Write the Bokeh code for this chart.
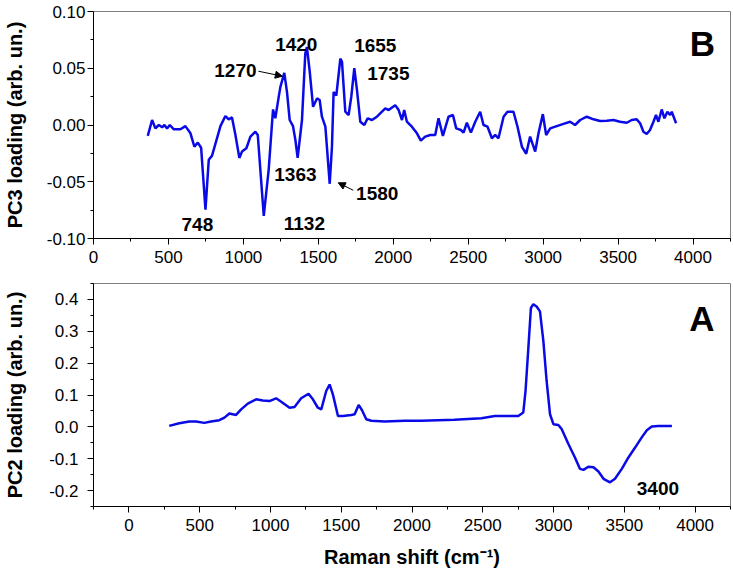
from bokeh.plotting import figure
from bokeh.layouts import column
from bokeh.models import Range1d, FixedTicker, PrintfTickFormatter, Arrow, NormalHead
from bokeh.core.properties import value
from bokeh.embed import file_html
from bokeh.resources import INLINE

# ---------------- data ----------------
pc3_shift = [362, 391, 413, 436, 458, 473, 491, 509, 536, 580, 613, 647, 673, 696, 718,
             747, 769, 791, 847, 880, 902, 924, 947, 973, 991, 1020, 1047, 1080, 1096,
             1136, 1169, 1191, 1198, 1213, 1236, 1247, 1273, 1291, 1309, 1331, 1347, 1362,
             1391, 1413, 1424, 1442, 1465, 1491, 1509, 1524, 1547, 1576, 1591, 1602, 1620,
             1647, 1658, 1680, 1702, 1720, 1740, 1758, 1780, 1807, 1829, 1858, 1891, 1913,
             1947, 1969, 2013, 2036, 2058, 2073, 2091, 2124, 2158, 2184, 2213, 2247, 2280,
             2302, 2331, 2369, 2398, 2420, 2451, 2469, 2491, 2518, 2547, 2580, 2602, 2629,
             2658, 2680, 2702, 2736, 2762, 2802, 2829, 2858, 2887, 2913, 2947, 2969, 2998,
             3020, 3047, 3091, 3136, 3180, 3213, 3247, 3291, 3336, 3380, 3424, 3469, 3513,
             3558, 3591, 3624, 3647, 3669, 3691, 3713, 3736, 3753, 3769, 3791, 3809, 3829,
             3847, 3858, 3887]
pc3_loading = [-0.0096, 0.0044, -0.003, 0.0, -0.002, 0.0, -0.003, 0.0, -0.0038, -0.0038,
               -0.001, -0.0073, -0.019, -0.0155, -0.020, -0.0746, -0.0307, -0.027, -0.001,
               0.0079, 0.005, 0.0067, -0.0088, -0.029, -0.0234, -0.0205, -0.0102, -0.0059,
               -0.0088, -0.080, -0.039, 0.0015, 0.0137, 0.0059, 0.025, 0.0336, 0.0459, 0.029,
               0.0044, -0.001, -0.0132, -0.029, 0.0044, 0.0629, 0.0687, 0.048, 0.016, 0.0234,
               0.022, 0.0073, -0.0015, -0.0518, -0.019, 0.029, 0.026, 0.0585, 0.0556, 0.0117,
               0.0088, 0.025, 0.050, 0.0307, 0.0029, 0.0, 0.0059, 0.0044, 0.0073, 0.0102,
               0.0146, 0.0132, 0.0175, 0.0132, 0.0044, 0.0132, 0.0029, -0.0015, -0.0073,
               -0.0137, -0.0102, -0.0088, -0.0088, 0.0059, -0.0096, 0.0073, 0.0088, -0.003,
               -0.0044, -0.0067, 0.002, -0.0067, 0.0029, 0.0117, 0.0, -0.0015, -0.0117,
               -0.0088, -0.0117, 0.0073, 0.0117, 0.0117, -0.0015, -0.019, -0.0254, -0.0102,
               -0.0234, -0.0073, 0.0096, -0.0088, -0.003, -0.001, 0.001, 0.0029, 0.0, 0.0044,
               0.0073, 0.005, 0.0035, 0.0038, 0.0044, 0.0029, 0.002, 0.0044, 0.005, 0.0015,
               -0.0059, -0.0079, -0.0044, 0.0029, 0.0088, 0.0029, 0.0137, 0.0059, 0.0117,
               0.0088, 0.0117, 0.0015]

pc2_shift = [285, 356, 427, 474, 533, 580, 639, 675, 710, 757, 793, 840, 899, 946, 993,
             1040, 1076, 1135, 1170, 1217, 1269, 1300, 1335, 1359, 1394, 1418, 1441, 1477,
             1512, 1571, 1595, 1623, 1647, 1677, 1713, 1807, 1948, 2066, 2300, 2491, 2585,
             2703, 2751, 2786, 2802, 2822, 2840, 2857, 2880, 2904, 2928, 2951, 2975, 2999,
             3034, 3057, 3105, 3151, 3187, 3211, 3246, 3282, 3317, 3353, 3399, 3434, 3482,
             3529, 3576, 3623, 3659, 3694, 3741, 3836]
pc2_loading = [0.003, 0.0115, 0.0167, 0.0167, 0.0125, 0.0167, 0.021, 0.029, 0.042, 0.0375,
               0.055, 0.073, 0.0865, 0.083, 0.081, 0.0896, 0.079, 0.060, 0.0625, 0.0896,
               0.104, 0.0865, 0.060, 0.055, 0.1125, 0.133, 0.102, 0.034, 0.034, 0.0375,
               0.0396, 0.0688, 0.052, 0.024, 0.019, 0.0167, 0.019, 0.019, 0.022, 0.027,
               0.034, 0.034, 0.034, 0.045, 0.1125, 0.248, 0.373, 0.385, 0.378, 0.3625,
               0.269, 0.144, 0.0396, 0.0084, 0.006, -0.007, -0.054, -0.096, -0.132, -0.135,
               -0.125, -0.127, -0.140, -0.163, -0.174, -0.163, -0.132, -0.096, -0.065,
               -0.033, -0.0105, 0.001, 0.003, 0.003]

x_ticks = [0, 500, 1000, 1500, 2000, 2500, 3000, 3500, 4000]
x_minor = [-250, 250, 750, 1250, 1750, 2250, 2750, 3250, 3750, 4250]
pc3_yticks = [-0.10, -0.05, 0.0, 0.05, 0.10]
pc3_yminor = [-0.075, -0.025, 0.025, 0.075]
pc2_yticks = [-0.2, -0.1, 0.0, 0.1, 0.2, 0.3, 0.4]
pc2_yminor = [-0.25, -0.15, -0.05, 0.05, 0.15, 0.25, 0.35, 0.45]

pc3_peak_text = ["748", "1132", "1363", "1270", "1420", "1655", "1735", "1580"]
pc3_peak_x = [693, 1407, 1347, 947, 1353, 1880, 1967, 1893]
pc3_peak_y = [-0.0877, -0.0868, -0.0434, 0.0478, 0.071, 0.0697, 0.045, -0.0605]
pc3_arrow_x0 = [1100, 1733]
pc3_arrow_y0 = [0.0474, -0.0575]
pc3_arrow_x1 = [1260, 1633]
pc3_arrow_y1 = [0.043, -0.0509]

pc2_peak_text = ["3400"]
pc2_peak_x = [3737]
pc2_peak_y = [-0.192]

panel_text = ["B", "A"]
panel_x = [4063, 4048]
panel_y = [0.0718, 0.339]

FONT = "Liberation Sans"
LINE = "#0a0ae6"


def style(p, yticks, yminor, yfmt, lbl_standoff, title_standoff):
    p.xgrid.visible = False
    p.ygrid.visible = False
    p.outline_line_color = "#7f7f7f"
    p.outline_line_width = 1
    p.background_fill_color = "white"
    p.border_fill_color = "white"
    p.xaxis.ticker = FixedTicker(ticks=x_ticks, minor_ticks=x_minor)
    p.yaxis.ticker = FixedTicker(ticks=yticks, minor_ticks=yminor)
    p.yaxis.formatter = PrintfTickFormatter(format=yfmt)
    for ax in (p.xaxis[0], p.yaxis[0]):
        ax.axis_line_color = "black"
        ax.axis_line_width = 1
        ax.major_tick_line_color = "black"
        ax.minor_tick_line_color = "black"
        ax.major_tick_in = 0
        ax.major_tick_out = 6
        ax.minor_tick_in = 0
        ax.minor_tick_out = 3
        ax.major_label_text_font = FONT
        ax.major_label_text_font_size = "17px"
        ax.major_label_text_color = "black"
        ax.axis_label_text_font = FONT
        ax.axis_label_text_font_style = "bold"
        ax.axis_label_text_font_size = "20px"
        ax.axis_label_text_color = "black"
    p.xaxis.major_label_standoff = 6
    p.yaxis.major_label_standoff = lbl_standoff
    p.yaxis.axis_label_standoff = title_standoff


# ---------------- top panel (B) ----------------
top = figure(width=733, height=275, x_range=Range1d(0, 4250), y_range=Range1d(-0.10, 0.10),
             output_backend="svg", toolbar_location=None,
             min_border_left=93, min_border_right=3, min_border_top=11, min_border_bottom=37)
style(top, pc3_yticks, pc3_yminor, "%.2f", 2, 18)
top.yaxis.axis_label = "PC3 loading (arb. un.)"
top.line(pc3_shift, pc3_loading, line_color=LINE, line_width=2.5)
top.text(x=pc3_peak_x, y=pc3_peak_y, text=pc3_peak_text, text_font=value(FONT),
         text_font_style="bold", text_font_size="19px", text_align="center",
         text_baseline="middle", text_color="black")
for xs, ys, xe, ye in zip(pc3_arrow_x0, pc3_arrow_y0, pc3_arrow_x1, pc3_arrow_y1):
    top.add_layout(Arrow(end=NormalHead(size=7, fill_color="black", line_color="black"),
                         x_start=xs, y_start=ys, x_end=xe, y_end=ye,
                         line_color="black", line_width=1))
top.text(x=panel_x[:1], y=panel_y[:1], text=panel_text[:1], text_font=value(FONT),
         text_font_style="bold", text_font_size="35px", text_align="center",
         text_baseline="middle", text_color="black")

# ---------------- bottom panel (A) ----------------
bot = figure(width=733, height=300, x_range=Range1d(-250, 4250), y_range=Range1d(-0.25, 0.45),
             output_backend="svg", toolbar_location=None,
             min_border_left=93, min_border_right=3, min_border_top=8, min_border_bottom=69)
style(bot, pc2_yticks, pc2_yminor, "%.1f", 9, 20)
bot.yaxis.axis_label = "PC2 loading (arb. un.)"
bot.xaxis.axis_label = "Raman shift (cm\u207b\u00b9)"
bot.xaxis.axis_label_standoff = 12
bot.line(pc2_shift, pc2_loading, line_color=LINE, line_width=2.5)
bot.text(x=pc2_peak_x, y=pc2_peak_y, text=pc2_peak_text, text_font=value(FONT),
         text_font_style="bold", text_font_size="19px", text_align="center",
         text_baseline="middle", text_color="black")
bot.text(x=panel_x[1:], y=panel_y[1:], text=panel_text[1:], text_font=value(FONT),
         text_font_style="bold", text_font_size="35px", text_align="center",
         text_baseline="middle", text_color="black")

layout = column(top, bot, spacing=0)
open("out.html", "w").write(file_html(layout, INLINE))
